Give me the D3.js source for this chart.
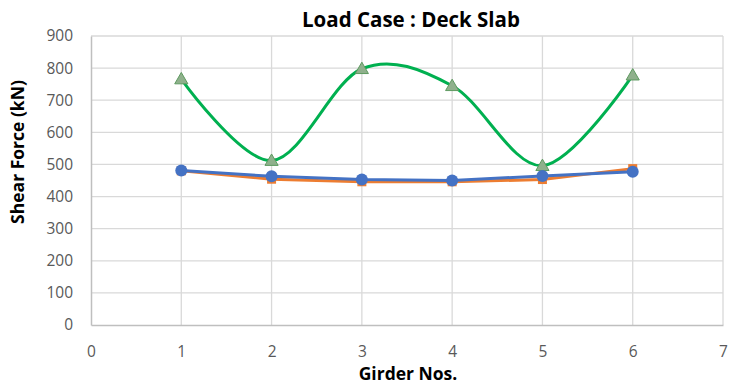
<!DOCTYPE html>
<html>
<head>
<meta charset="utf-8">
<script src="https://cdn.jsdelivr.net/npm/d3@7"></script>
<style>
  body { margin: 0; background: #fff; }
  svg text { font-family: "Open Sans", "Liberation Sans", sans-serif; }
</style>
</head>
<body>
<div id="chart"></div>
<script>
var girders = [1, 2, 3, 4, 5, 6]
var serieVerde = [766, 512, 798, 745, 496, 778]
var serieNaranja = [480, 454, 446, 446, 453, 487]
var serieAzul = [481, 463, 453, 450, 464, 477]
var ticksX = [0, 1, 2, 3, 4, 5, 6, 7]
var ticksY = [0, 100, 200, 300, 400, 500, 600, 700, 800, 900]

var width = 733,
    height = 386,
    margin = { top: 36, right: 10, bottom: 61, left: 91 };

var x = d3.scaleLinear().domain([0, 7]).range([margin.left, width - margin.right]);
var y = d3.scaleLinear().domain([0, 900]).range([height - margin.bottom, margin.top]);

var svg = d3.select("#chart").append("svg")
    .attr("width", width)
    .attr("height", height);

// rejilla
svg.append("g").selectAll("line")
    .data(ticksY.slice(1))
    .enter().append("line")
    .attr("x1", x(0)).attr("x2", x(7))
    .attr("y1", function (d) { return y(d); })
    .attr("y2", function (d) { return y(d); })
    .attr("stroke", "#d9d9d9").attr("stroke-width", 1.3);

svg.append("g").selectAll("line")
    .data(ticksX.slice(1))
    .enter().append("line")
    .attr("x1", function (d) { return x(d); })
    .attr("x2", function (d) { return x(d); })
    .attr("y1", y(0)).attr("y2", y(900))
    .attr("stroke", "#d9d9d9").attr("stroke-width", 1.3);

// ejes
var ejeX = svg.append("g")
    .attr("transform", "translate(0," + y(0) + ")")
    .call(d3.axisBottom(x).tickValues(ticksX).tickFormat(d3.format("d")).tickSize(0).tickPadding(21));
var ejeY = svg.append("g")
    .attr("transform", "translate(" + x(0) + ",0)")
    .call(d3.axisLeft(y).tickValues(ticksY).tickFormat(d3.format("d")).tickSize(0).tickPadding(18));

[ejeX, ejeY].forEach(function (g) {
    g.select(".domain").attr("stroke", "#bfbfbf").attr("stroke-width", 1.5);
    g.selectAll("text").attr("fill", "#595959").style("font-size", "15.5px");
});

var linea = d3.line()
    .x(function (d, i) { return x(girders[i]); })
    .y(function (d) { return y(d); })
    .curve(d3.curveCardinal.tension(0));

var lineaRecta = d3.line()
    .x(function (d, i) { return x(girders[i]); })
    .y(function (d) { return y(d); });

// serie verde
svg.append("path").datum(serieVerde)
    .attr("d", linea).attr("fill", "none")
    .attr("stroke", "#00b050").attr("stroke-width", 3);

svg.append("g").selectAll("path")
    .data(serieVerde)
    .enter().append("path")
    .attr("d", d3.symbol().type(d3.symbolTriangle).size(75))
    .attr("transform", function (d, i) { return "translate(" + x(girders[i]) + "," + (y(d) + 1) + ")"; })
    .attr("fill", "#8fb08c").attr("stroke", "#5e9a60").attr("stroke-width", 1);

// serie naranja
svg.append("path").datum(serieNaranja)
    .attr("d", lineaRecta).attr("fill", "none")
    .attr("stroke", "#ed7d31").attr("stroke-width", 3);

svg.append("g").selectAll("rect")
    .data(serieNaranja)
    .enter().append("rect")
    .attr("x", function (d, i) { return x(girders[i]) - 4.5; })
    .attr("y", function (d) { return y(d) - 4.5; })
    .attr("width", 9).attr("height", 9)
    .attr("fill", "#ed7d31");

// serie azul
svg.append("path").datum(serieAzul)
    .attr("d", lineaRecta).attr("fill", "none")
    .attr("stroke", "#4472c4").attr("stroke-width", 3);

svg.append("g").selectAll("circle")
    .data(serieAzul)
    .enter().append("circle")
    .attr("cx", function (d, i) { return x(girders[i]); })
    .attr("cy", function (d) { return y(d); })
    .attr("r", 6)
    .attr("fill", "#4472c4");

// textos
svg.append("text")
    .attr("x", 411).attr("y", 27)
    .attr("text-anchor", "middle")
    .style("font-size", "20.5px").style("font-weight", "bold")
    .attr("fill", "#000")
    .text("Load Case : Deck Slab");

svg.append("text")
    .attr("transform", "translate(24," + 152 + ") rotate(-90)")
    .attr("text-anchor", "middle")
    .style("font-size", "17.5px").style("font-weight", "bold")
    .attr("fill", "#000")
    .text("Shear Force (kN)");

svg.append("text")
    .attr("x", 408).attr("y", 380)
    .attr("text-anchor", "middle")
    .style("font-size", "17.5px").style("font-weight", "bold")
    .attr("fill", "#000")
    .text("Girder Nos.");
</script>
</body>
</html>
